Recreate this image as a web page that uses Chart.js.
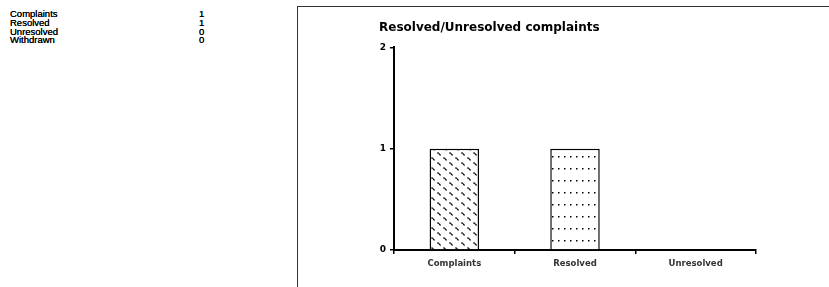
<!DOCTYPE html>
<html>
<head>
<meta charset="utf-8">
<script src="https://cdn.jsdelivr.net/npm/chart.js@4.4.0/dist/chart.umd.min.js"></script>
<style>
  body { margin: 0; background: #fff; font-family: "Liberation Sans", Arial, sans-serif; }
  #tabla { position: absolute; left: 10px; top: 10px; font-size: 9.5px; line-height: 8.8px; color: #000; text-shadow: 0 0 0.5px #000; }
  #tabla div { position: relative; height: 8.8px; }
  #tabla span.n { position: absolute; left: 189px; }
  #marco { position: absolute; left: 297px; top: 6px; width: 540px; height: 290px; border: 1.5px solid #333; box-sizing: border-box; }
  #wrap { position: absolute; left: 298px; top: 7px; width: 531px; height: 280px; }
</style>
</head>
<body>
<div id="tabla"></div>
<div id="marco"></div>
<div id="wrap"><canvas id="myChart"></canvas></div>
<script>
// datos de la tabla y del grafico
var filas = ["Complaints", "Resolved", "Unresolved", "Withdrawn"];
var valores_tabla = [1, 1, 0, 0];
var categorias = ["Complaints", "Resolved", "Unresolved"];
var valores = [1, 1, 0];
var ticks_y = [0, 1, 2];

var tabla = document.getElementById("tabla");
for (var i = 0; i < filas.length; i++) {
  var d = document.createElement("div");
  d.innerHTML = filas[i] + '<span class="n">' + valores_tabla[i] + "</span>";
  tabla.appendChild(d);
}

// tramas para las barras
function tramaOndas() {
  var c = document.createElement("canvas");
  c.width = 12; c.height = 10;
  var g = c.getContext("2d");
  g.fillStyle = "#fff"; g.fillRect(0, 0, 12, 10);
  g.strokeStyle = "#000"; g.lineWidth = 1.2;
  g.beginPath();
  g.moveTo(1, 1); g.lineTo(2.5, 1); g.lineTo(4, 3); g.lineTo(5, 3);
  g.moveTo(7, 6); g.lineTo(8.5, 6); g.lineTo(10, 8); g.lineTo(11, 8);
  g.stroke();
  return g.createPattern(c, "repeat");
}
function tramaPuntos() {
  var c = document.createElement("canvas");
  c.width = 6; c.height = 12;
  var g = c.getContext("2d");
  g.fillStyle = "#fff"; g.fillRect(0, 0, 6, 12);
  g.fillStyle = "#000";
  g.fillRect(2, 5, 1.5, 1.5);
  return g.createPattern(c, "repeat");
}

var fuente = { family: "'DejaVu Sans', sans-serif", size: 8.5, weight: "bold" };

var ctx = document.getElementById("myChart");
var myChart = new Chart(ctx, {
  type: "bar",
  data: {
    labels: categorias,
    datasets: [
      {
        data: valores,
        backgroundColor: [tramaOndas(), tramaPuntos(), "#fff"],
        borderColor: "#000",
        borderWidth: 1.5,
        barPercentage: 0.41,
        categoryPercentage: 1,
      },
    ],
  },
  options: {
    responsive: true,
    maintainAspectRatio: false,
    animation: false,
    layout: { padding: { left: 81, right: 73, top: 0, bottom: 0 } },
    plugins: {
      legend: { display: false },
      tooltip: { enabled: false },
      title: {
        display: true,
        text: "Resolved/Unresolved complaints",
        align: "start",
        color: "#000",
        font: { family: "'DejaVu Sans', sans-serif", size: 12, weight: "bold" },
        padding: { top: 14, bottom: 12 },
      },
    },
    scales: {
      y: {
        min: 0,
        max: 2,
        afterFit: function (s) { s.width = 15; },
        afterBuildTicks: function (s) { s.ticks = ticks_y.map(function (v) { return { value: v }; }); },
        ticks: { color: "#000", font: { family: "'DejaVu Sans', sans-serif", size: 9, weight: "bold" }, padding: 4 },
        grid: { drawOnChartArea: false, tickLength: 4, color: "#000", lineWidth: 1.5 },
        border: { color: "#000", width: 2 },
      },
      x: {
        afterFit: function (s) { s.height = 37; },
        ticks: { color: "#333", font: fuente, padding: 5 },
        grid: { offset: true, drawOnChartArea: false, tickLength: 4, color: "#000", lineWidth: 1.5 },
        border: { color: "#000", width: 2 },
      },
    },
  },
});
</script>
</body>
</html>
